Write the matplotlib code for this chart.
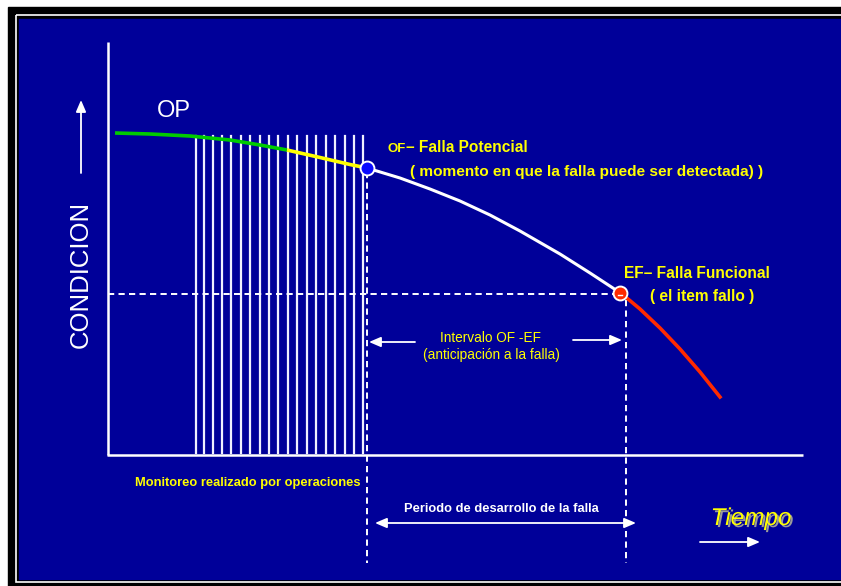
import matplotlib
matplotlib.use("Agg")
import matplotlib.pyplot as plt
import matplotlib.patches as mpatches
import matplotlib.patheffects as pe

# condition curve, pixel-style coordinates (x to the right, y downwards)
green_x = [115, 150, 190, 230, 260, 287]
green_y = [133, 134, 136, 140, 145, 150]
yellow_x = [287, 320, 350, 367]
yellow_y = [150, 157.5, 164.5, 168]
white_x = [367, 400, 430, 460, 490, 520, 560, 590, 619]
white_y = [168, 178, 189, 201, 215, 231, 254, 273, 292]
red_x = [622, 640, 660, 680, 700, 720]
red_y = [294, 309, 328, 349, 372, 397]

# monitoring strokes
monitor_x = [196, 204, 213, 222, 231, 241, 250, 260, 269, 278,
             288, 297, 307, 316, 326, 335, 345, 354, 363]

of_point = (367, 168)
ef_point = (620, 293)

BLUE = "#000099"
YELLOW = "#ffff00"
FONT = ["Liberation Sans", "DejaVu Sans"]

fig = plt.figure(figsize=(8.41, 5.86), dpi=100)
fig.patch.set_facecolor("white")
ax = fig.add_axes([0, 0, 1, 1])
ax.set_xlim(0, 841)
ax.set_ylim(586, 0)
ax.axis("off")

# slide frame
ax.add_patch(mpatches.Rectangle((8, 7), 841, 586, color="black", zorder=0))
ax.add_patch(mpatches.Rectangle((16, 15), 841, 566.5, fill=False,
                                edgecolor="white", lw=1.2, zorder=0.5))
ax.add_patch(mpatches.Rectangle((19, 19), 841, 560, color=BLUE, zorder=1))

# axes
ax.plot([108, 108], [42, 455], color="white", lw=1.8, zorder=3,
        solid_capstyle="butt")
ax.plot([107, 803], [455, 455], color="white", lw=1.8, zorder=3,
        solid_capstyle="butt")

# monitoring strokes
for x in monitor_x:
    ax.plot([x, x], [136, 453], color="#f0f0ff", lw=1.6, zorder=2)

# dashed guides
dash = dict(color="white", lw=1.4, dashes=(3.2, 2.2), zorder=3)
ax.plot([108, 620], [294, 294], **dash)
ax.plot([367, 367], [172, 563], **dash)
ax.plot([626, 626], [300, 563], **dash)

# curve
ax.plot(green_x, green_y, color="#00cc00", lw=2.6, zorder=4,
        solid_capstyle="butt")
ax.plot(yellow_x, yellow_y, color=YELLOW, lw=2.6, zorder=4,
        solid_capstyle="butt")
ax.plot(white_x, white_y, color="white", lw=2.2, zorder=4)
ax.plot(red_x, red_y, color="#ff2a00", lw=2.6, zorder=4)

ax.plot(*of_point, "o", ms=10, mfc="#0a0aff", mec="white", mew=1.4, zorder=5)
ax.plot(*ef_point, "o", ms=10, mfc="#ff2a00", mec="white", mew=1.4, zorder=5)
ax.plot([ef_point[0] - 2, ef_point[0] + 2], [ef_point[1] + 2] * 2,
        color="white", lw=1, zorder=6)

# arrows
head = dict(arrowstyle="-|>,head_length=0.7,head_width=0.3",
            color="white", lw=1.3, shrinkA=0, shrinkB=0)
ax.annotate("", xy=(369, 342), xytext=(415, 342), arrowprops=head, zorder=4)
ax.annotate("", xy=(622, 340), xytext=(573, 340), arrowprops=head, zorder=4)
ax.annotate("", xy=(760, 542), xytext=(700, 542), arrowprops=head, zorder=4)
ax.annotate("", xy=(81, 100), xytext=(81, 173), arrowprops=head, zorder=4)
ax.annotate("", xy=(375, 523), xytext=(636, 523),
            arrowprops=dict(arrowstyle="<|-|>,head_length=0.7,head_width=0.3",
                            color="white", lw=1.3, shrinkA=0, shrinkB=0),
            zorder=4)

# labels
ax.text(81, 274, "CONDICION", rotation=90, color="white", fontsize=18.5,
        family=FONT, ha="center", va="center", zorder=5)
ax.text(174, 111, "OP", color="white", fontsize=17, family=FONT,
        ha="center", va="center", zorder=5)

ax.text(388, 152, "OF", color=YELLOW, fontsize=9.5, family=FONT,
        fontweight="bold", ha="left", va="baseline", zorder=5)
ax.text(406, 152, "– Falla Potencial", color=YELLOW, fontsize=11.2,
        family=FONT, fontweight="bold", ha="left", va="baseline", zorder=5)
ax.text(410, 176, "( momento en que la falla puede ser detectada) )",
        color=YELLOW, fontsize=11.1, family=FONT, fontweight="bold",
        ha="left", va="baseline", zorder=5)

ax.text(697, 278, "EF– Falla Funcional", color=YELLOW, fontsize=11.2,
        family=FONT, fontweight="bold", ha="center", va="baseline", zorder=5)
ax.text(702, 301, "( el item fallo )", color=YELLOW, fontsize=11.2,
        family=FONT, fontweight="bold", ha="center", va="baseline", zorder=5)

ax.text(491, 342, "Intervalo OF -EF", color=YELLOW, fontsize=9.8,
        family=FONT, ha="center", va="baseline", zorder=5)
ax.text(491, 359, "(anticipación a la falla)", color=YELLOW, fontsize=9.8,
        family=FONT, ha="center", va="baseline", zorder=5)

ax.text(248, 486, "Monitoreo realizado por operaciones", color=YELLOW,
        fontsize=9.3, family=FONT, fontweight="bold", ha="center",
        va="baseline", zorder=5)
ax.text(501, 512, "Periodo de desarrollo de la falla", color="white",
        fontsize=9.3, family=FONT, fontweight="bold", ha="center",
        va="baseline", zorder=5)

ax.text(751, 525, "Tiempo", color=YELLOW, fontsize=17.5, family=FONT,
        style="italic", ha="center", va="baseline", zorder=5,
        path_effects=[pe.SimplePatchShadow(offset=(1.5, -1.5),
                                           shadow_rgbFace="#9a9a9a",
                                           alpha=1.0),
                      pe.Normal()])

fig.savefig("out.png", dpi=100, facecolor=fig.get_facecolor())
